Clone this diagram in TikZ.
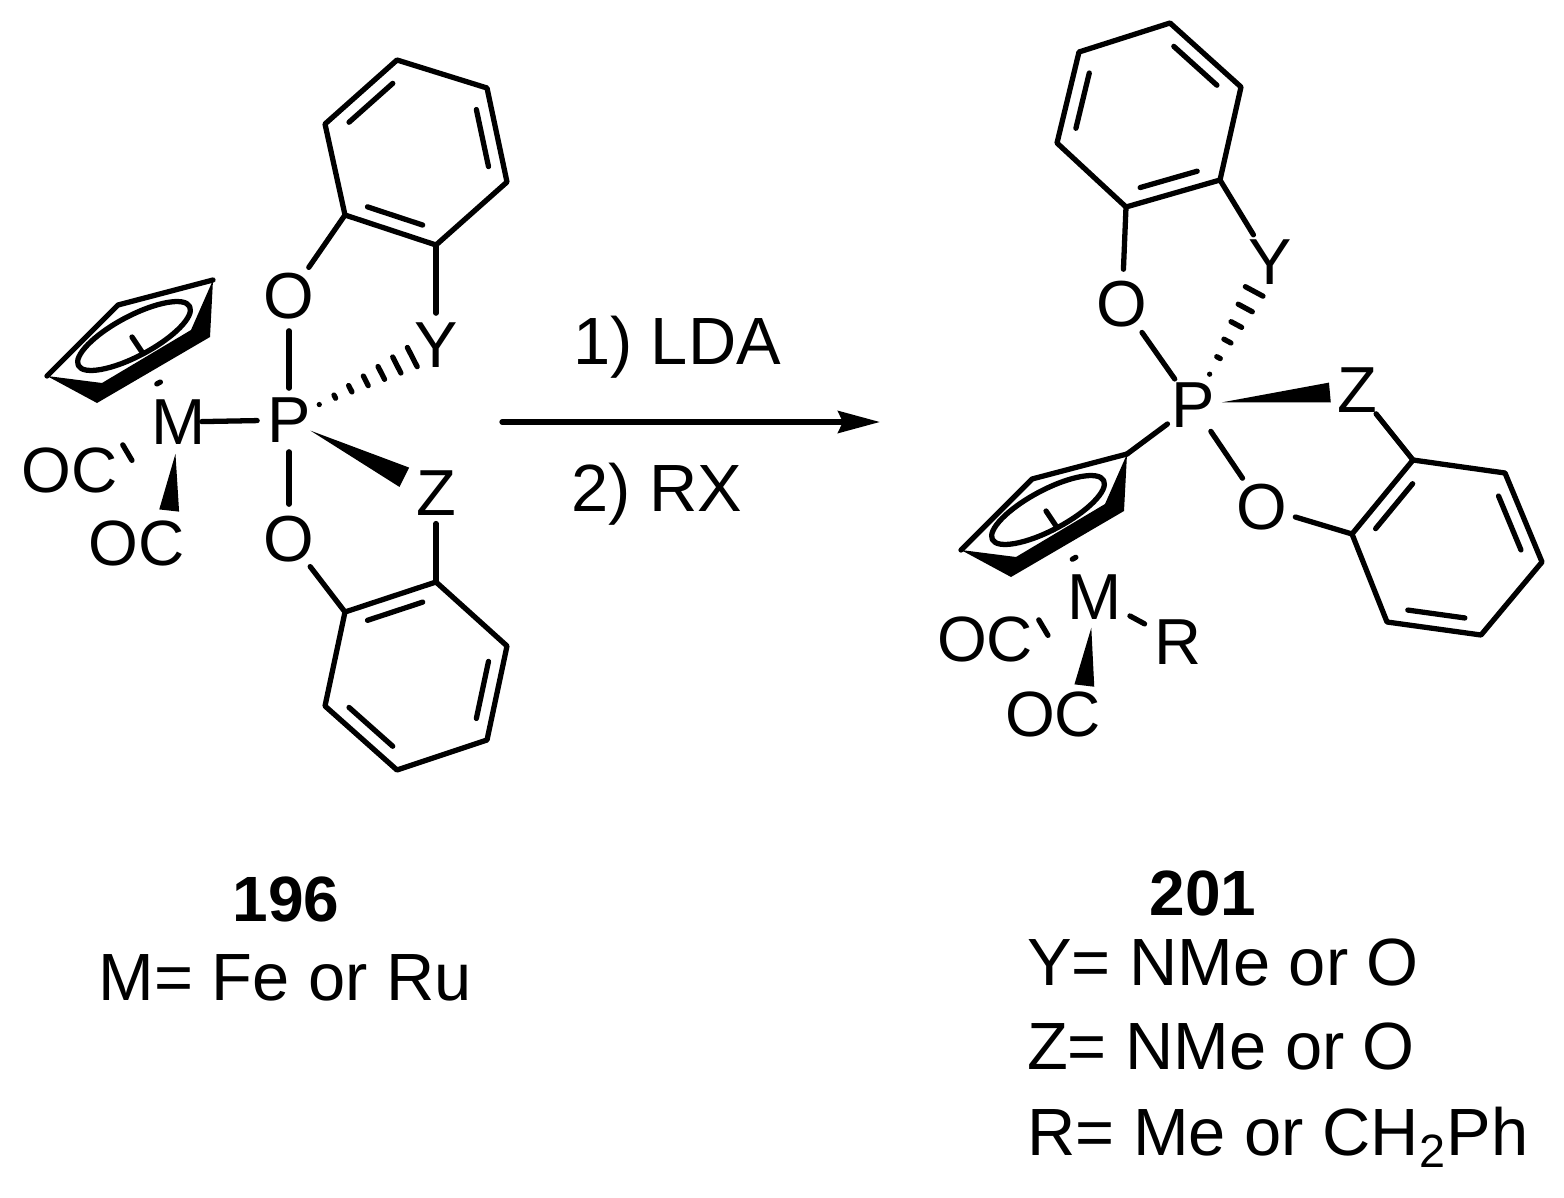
\documentclass[tikz,border=0pt]{standalone}
\usepackage{fontspec}
\setmainfont{Liberation Sans}
\usetikzlibrary{arrows.meta, calc}

\newcommand{\hashtick}[4]{\draw[hashline] ($(#1)!#3 cm!(#2)!#4 cm!90:(#2)$) -- ($(#1)!#3 cm!(#2)!#4 cm!-90:(#2)$);}
\newcommand{\hashbond}[6]{%
  \foreach \i in {0,...,#5} {
    \pgfmathsetmacro{\hr}{(#3+\i*#4)*0.01}
    \pgfmathsetmacro{\hw}{\i*#6*0.01}
    \hashtick{#1}{#2}{\hr}{\hw}
  }}
\newcommand{\wedgebond}[5]{\fill ($(#1)!#3*0.01cm!(#2)$) -- ($(#2)!#4*0.01cm!#5:(#1)$) -- ($(#2)!#4*0.01cm!-#5:(#1)$) -- cycle;}
\newcommand{\innerbond}[3]{\draw[bond] ($($(#1)!.13!(#2)$)!.18!(#3)$) -- ($($(#2)!.13!(#1)$)!.18!(#3)$);}

\tikzset{
  bond/.style={line width=1.5pt, line cap=round, line join=round},
  hashline/.style={line width=1.5pt, line cap=round},
  atom/.style={circle, inner sep=0pt, font=\fontsize{18.5}{22}\selectfont},
  lig/.style={inner sep=0pt, font=\fontsize{18.2}{22}\selectfont},
  lab/.style={inner sep=0pt, font=\fontsize{19}{23}\selectfont},
  numlab/.style={inner sep=0pt, font=\fontsize{18.2}{22}\selectfont\bfseries},
  cp/.pic={
    \fill (47,376) -- (97,403) -- (210,337) -- (213,280) -- (191,330) -- (102,383) -- cycle;
    \draw[bond] (47,376) -- (118,305) -- (213,280);
    \draw[bond, rotate around={28:(134,336)}] (134,336) ellipse (63 and 20);
    \draw[bond] (132,337) -- (142,352);
    \coordinate (-top) at (213,280);
    \coordinate (-mid) at (134,336);
  }
}

\begin{document}
\begin{tikzpicture}[x=0.01cm, y=-0.01cm]
  \useasboundingbox (0,0) rectangle (1564,1197);

  \foreach \n/\x/\y in {a1/345/215, a2/436/245, a3/507/182, a4/487/88, a5/397/60, a6/325/124,
      ac/416/152,
      b1/436/582, b2/345/612, b3/325/706, b4/397/770, b5/487/740, b6/507/646,
      bc/416/676,
      c1/1126/207, c2/1220/180, c3/1241/87, c4/1170/23, c5/1079/52, c6/1057/143,
      cc/1149/115,
      d1/1413/460, d2/1352/534, d3/1387/622, d4/1481/635, d5/1542/562, d6/1505/473,
      dc/1447/548,
      oca/98/470, ocb/167/530, occ/1014/645, ocd/1082/705, arra/502/422, arrb/880/422}
    \coordinate (\n) at (\x,\y);

  \node[atom] (Pl) at (289,420) {P};
  \node[atom] (Ml) at (179,422) {M};
  \node[atom] (Ol1) at (289,296) {O};
  \node[atom] (Ol2) at (289,539) {O};
  \node[atom] (Yl) at (436,345) {Y};
  \node[atom] (Zl) at (436,493) {Z};
  \node[lig] (OCl1) at (70,470) {OC};
  \node[lig] (OCl2) at (137,543) {OC};

  \node[atom] (Pr) at (1193,405) {P};
  \node[atom] (Mr) at (1095,597) {M};
  \node[atom] (Or1) at (1122,304) {O};
  \node[atom] (Or2) at (1262,507) {O};
  \node[atom] (Yr) at (1270,262) {Y};
  \node[atom] (Zr) at (1357,390) {Z};
  \node[atom] (Rr) at (1178,642) {R};
  \node[lig] (OCr1) at (985,639) {OC};
  \node[lig] (OCr2) at (1053,714) {OC};

  \node[lab] (step1) at (677,347) {1) LDA};
  \node[lab] (step2) at (657,494) {2) RX};
  \node[numlab] (num1) at (286,899) {196};
  \node[lab] (metal) at (285,978) {M= Fe or Ru};
  \node[numlab] (num2) at (1203,893) {201};
  \node[lab] (yline) at (1223,962) {Y= NMe or O};
  \node[lab] (zline) at (1221,1046) {Z= NMe or O};
  \node[lab] (rline) at (1278,1137) {R= Me or CH\textsubscript{2}Ph};

  \draw[bond] (a1) -- (a2) -- (a3) -- (a4) -- (a5) -- (a6) -- cycle;
  \innerbond{a1}{a2}{ac} \innerbond{a3}{a4}{ac} \innerbond{a5}{a6}{ac}
  \draw[bond] (b1) -- (b2) -- (b3) -- (b4) -- (b5) -- (b6) -- cycle;
  \innerbond{b1}{b2}{bc} \innerbond{b3}{b4}{bc} \innerbond{b5}{b6}{bc}
  \draw[bond] (c1) -- (c2) -- (c3) -- (c4) -- (c5) -- (c6) -- cycle;
  \innerbond{c1}{c2}{cc} \innerbond{c3}{c4}{cc} \innerbond{c5}{c6}{cc}
  \draw[bond] (d1) -- (d2) -- (d3) -- (d4) -- (d5) -- (d6) -- cycle;
  \innerbond{d1}{d2}{dc} \innerbond{d3}{d4}{dc} \innerbond{d5}{d6}{dc}

  \draw[bond] (a1) -- (Ol1);
  \draw[bond] (a2) -- (Yl);
  \draw[bond] (Ol1) -- (Pl);
  \draw[bond] (Ol2) -- (Pl);
  \draw[bond] (b2) -- (Ol2);
  \draw[bond] (b1) -- (Zl);
  \draw[bond, shorten <=-0.13cm] (Ml) -- (Pl);
  \hashbond{Pl}{Yl}{34}{17.4}{6}{1.8}
  \wedgebond{Pl}{Zl}{24}{37}{17}
  \pic (cpl) at (0,0) {cp};
  \hashtick{Ml}{cpl-mid}{0.44}{0.02}
  \hashtick{Ml}{oca}{0.6}{0.09}
  \wedgebond{Ml}{ocb}{32}{22}{27}

  \draw[bond] (c1) -- (Or1);
  \draw[bond] (c2) -- (Yr);
  \draw[bond] (Or1) -- (Pr);
  \draw[bond] (Or2) -- (Pr);
  \draw[bond] (Or2) -- (d2);
  \draw[bond] (Zr) -- (d1);
  \hashbond{Pr}{Yr}{35}{18.8}{5}{2}
  \wedgebond{Pr}{Zr}{29}{29}{20}
  \pic (cpr) at (914,174) {cp};
  \draw[bond] (Pr) -- (cpr-top);
  \hashtick{Mr}{cpr-mid}{0.44}{0.02}
  \hashtick{Mr}{occ}{0.6}{0.09}
  \wedgebond{Mr}{ocd}{31}{22}{27}
  \draw[bond, shorten <=0.04cm, shorten >=0.05cm] (Mr) -- (Rr);

  \draw[bond, -{Stealth[length=4.2mm, width=2.2mm, inset=0.5mm]}] (arra) -- (arrb);
\end{tikzpicture}
\end{document}
